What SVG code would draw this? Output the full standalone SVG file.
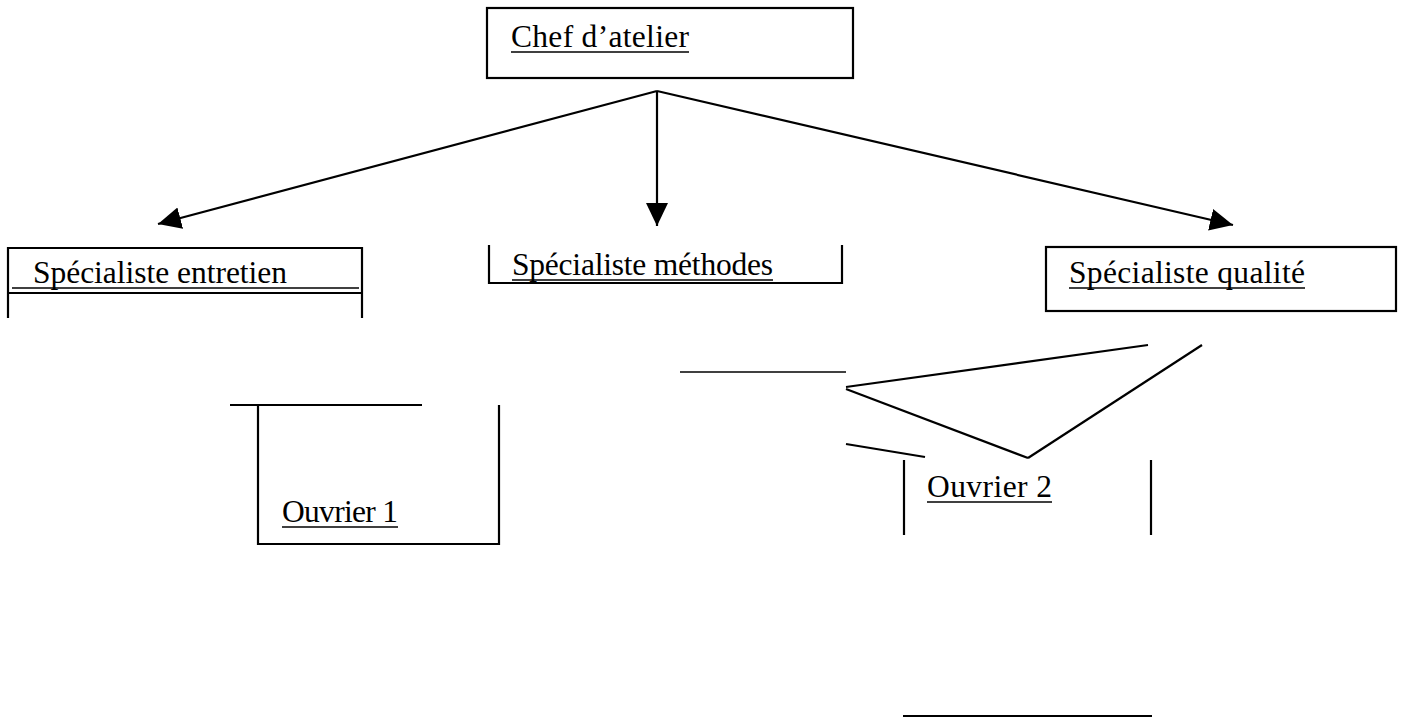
<svg xmlns="http://www.w3.org/2000/svg" width="1405" height="718" viewBox="0 0 1405 718">
<style>
  .bx{fill:none;stroke:#000;stroke-width:2.2}
  .ln{fill:none;stroke:#000;stroke-width:2.2}
  .ul{stroke:#000;stroke-width:1.6}
  .t{font-family:"Liberation Serif","Times New Roman",serif;font-size:31.5px;fill:#000}
</style>
<defs>
  <marker id="ah" markerUnits="userSpaceOnUse" markerWidth="26" markerHeight="24" refX="23" refY="11" orient="auto">
    <path d="M0,0 L23,11 L0,22 Z" fill="#000"/>
  </marker>
</defs>
<rect width="1405" height="718" fill="#fff"/>

<g id="chef">
  <rect class="bx" x="487" y="8" width="366" height="70"/>
  <text class="t" x="511" y="47" textLength="178" lengthAdjust="spacing">Chef d’atelier</text>
  <line class="ul" x1="511" y1="52" x2="689" y2="52"/>
</g>

<g id="spec-entretien">
  <line class="bx" x1="8" y1="248" x2="362" y2="248"/>
  <line class="bx" x1="8" y1="293" x2="362" y2="293"/>
  <line class="bx" x1="8" y1="247" x2="8" y2="318"/>
  <line class="bx" x1="362" y1="247" x2="362" y2="318"/>
  <text class="t" x="33" y="283" textLength="254" lengthAdjust="spacing">Spécialiste entretien</text>
  <line class="ul" x1="12" y1="288" x2="359" y2="288"/>
</g>

<g id="spec-methodes">
  <line class="bx" x1="489" y1="245" x2="489" y2="284"/>
  <line class="bx" x1="842" y1="245" x2="842" y2="284"/>
  <line class="bx" x1="488" y1="283" x2="843" y2="283"/>
  <text class="t" x="512" y="275" textLength="261" lengthAdjust="spacing">Spécialiste méthodes</text>
  <line class="ul" x1="512" y1="280" x2="773" y2="280"/>
</g>

<g id="spec-qualite">
  <rect class="bx" x="1046" y="247" width="350" height="64"/>
  <text class="t" x="1069" y="283" textLength="236" lengthAdjust="spacing">Spécialiste qualité</text>
  <line class="ul" x1="1069" y1="288" x2="1305" y2="288"/>
</g>

<g id="ouvrier1">
  <line class="bx" x1="230" y1="405" x2="422" y2="405"/>
  <polyline class="bx" points="258,405 258,544 499,544 499,405"/>
  <text class="t" x="282" y="522" textLength="116" lengthAdjust="spacing">Ouvrier 1</text>
  <line class="ul" x1="282" y1="527" x2="398" y2="527"/>
</g>

<g id="ouvrier2">
  <line class="bx" x1="904" y1="460" x2="904" y2="535"/>
  <line class="bx" x1="1151" y1="460" x2="1151" y2="535"/>
  <line class="bx" x1="903" y1="716" x2="1152" y2="716"/>
  <text class="t" x="927" y="497" textLength="125" lengthAdjust="spacing">Ouvrier 2</text>
  <line class="ul" x1="927" y1="502" x2="1052" y2="502"/>
</g>

<g id="connectors">
  <line class="ln" x1="657" y1="91" x2="158" y2="224" marker-end="url(#ah)"/>
  <line class="ln" x1="657" y1="91" x2="657" y2="226" marker-end="url(#ah)"/>
  <line class="ln" x1="657" y1="91" x2="1233" y2="225" marker-end="url(#ah)"/>
  <line class="ul" x1="680" y1="372" x2="846" y2="372"/>
  <line class="ln" x1="846" y1="387" x2="1148" y2="345"/>
  <line class="ln" x1="846" y1="389" x2="1028" y2="458"/>
  <line class="ln" x1="1028" y1="458" x2="1202" y2="345"/>
  <line class="ln" x1="846" y1="444" x2="925" y2="457"/>
</g>
</svg>
